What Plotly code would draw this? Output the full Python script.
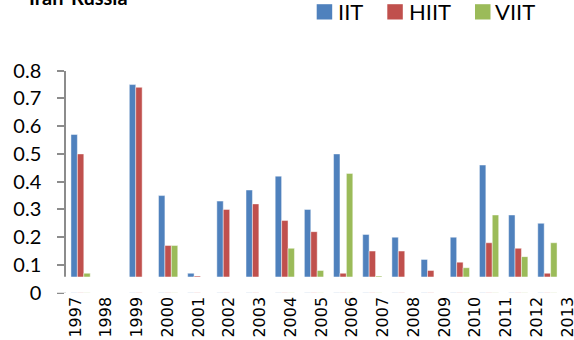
import plotly.graph_objects as go

# Trade shares by year
years = ["1997", "1998", "1999", "2000", "2001", "2002", "2003", "2004", "2005",
         "2006", "2007", "2008", "2009", "2010", "2011", "2012", "2013"]
iit = [0.57, None, 0.75, 0.35, 0.07, 0.33, 0.37, 0.42, 0.30,
       0.50, 0.21, 0.20, 0.12, 0.20, 0.46, 0.28, 0.25]
hiit = [0.50, None, 0.74, 0.17, 0.06, 0.30, 0.32, 0.26, 0.22,
        0.07, 0.15, 0.15, 0.08, 0.11, 0.18, 0.16, 0.07]
viit = [0.07, None, None, 0.17, None, None, None, 0.16, 0.08,
        0.43, 0.06, None, None, 0.09, 0.28, 0.13, 0.18]

series_names = ["IIT", "HIIT", "VIIT"]
series_colors = ["#4F81BD", "#C0504D", "#9BBB59"]
y_ticks = [0, 0.1, 0.2, 0.3, 0.4, 0.5, 0.6, 0.7, 0.8]
y_ticktext = ["0", "0.1", "0.2", "0.3", "0.4", "0.5", "0.6", "0.7", "0.8"]
title_text = "Iran-Russia"

W, H = 574, 340


def fx(p):
    return p / W


def fy(p):
    return 1 - p / H


fig = go.Figure()
for name, vals, col in zip(series_names, [iit, hiit, viit], series_colors):
    fig.add_trace(go.Bar(
        x=years, y=vals, name=name,
        marker=dict(color=col, line=dict(color="rgba(255,255,255,0.45)", width=1)),
        showlegend=False,
    ))

# empty trace so the year-label axis gets its own subplot
fig.add_trace(go.Scatter(x=[], y=[], xaxis="x2", yaxis="y", mode="markers",
                         showlegend=False, hoverinfo="skip"))

shapes = [
    # blank band along the bottom of the plot area
    dict(type="rect", xref="paper", yref="y", x0=fx(50), x1=1, y0=-0.012, y1=0.0577,
         fillcolor="white", line=dict(width=0), layer="above"),
]
annotations = [
    dict(text="<b>" + title_text + "</b>", xref="paper", yref="paper",
         x=fx(27), y=fy(-3.5), xanchor="left", yanchor="middle", showarrow=False,
         font=dict(family="Lato", size=20, color="#000")),
]

# legend drawn as swatches and labels
legend_sw = [316.7, 387.3, 475.0]
legend_tx = [337.0, 408.0, 494.0]
for name, col, sx, tx in zip(series_names, series_colors, legend_sw, legend_tx):
    shapes.append(dict(type="rect", xref="paper", yref="paper",
                       x0=fx(sx), x1=fx(sx + 15.5), y0=fy(19.5), y1=fy(4.2),
                       fillcolor=col, line=dict(width=0)))
    annotations.append(dict(text=name, xref="paper", yref="paper",
                            x=fx(tx), y=fy(12), xanchor="left", yanchor="middle",
                            showarrow=False, borderpad=0,
                            font=dict(family="Lato", size=22, color="#000")))

fig.update_layout(
    template="none",
    width=W, height=H,
    margin=dict(l=0, r=0, t=0, b=0, autoexpand=False),
    paper_bgcolor="white", plot_bgcolor="rgba(0,0,0,0)",
    barmode="group", bargap=0.34, bargroupgap=0,
    showlegend=False,
    shapes=shapes, annotations=annotations,
    xaxis=dict(type="category", categoryorder="array", categoryarray=years,
               range=[-0.5, 16.5], domain=[fx(66), fx(562)], automargin=False,
               showticklabels=False, showline=False, ticks="", showgrid=False,
               zeroline=False),
    xaxis2=dict(anchor="y", domain=[fx(66), 1], range=[-0.309, 16.211],
                automargin=False, type="linear", ticklabeloverflow="allow",
                tickmode="array", tickvals=list(range(len(years))), ticktext=years,
                tickangle=-90, ticks="", showline=False, showgrid=False, zeroline=False,
                tickfont=dict(family="DejaVu Sans", size=16, color="#000")),
    yaxis=dict(range=[0, 0.8], domain=[fy(292.7), fy(70.7)], automargin=False,
               tickmode="array", tickvals=y_ticks, ticktext=y_ticktext,
               showline=True, linecolor="#8c8c8c", linewidth=1.5,
               ticks="outside", ticklen=7, tickcolor="#8c8c8c", tickwidth=1.5,
               ticklabelstandoff=12, showgrid=False, zeroline=False,
               tickfont=dict(family="Lato", size=20, color="#000")),
)

fig.write_html("out.html")
